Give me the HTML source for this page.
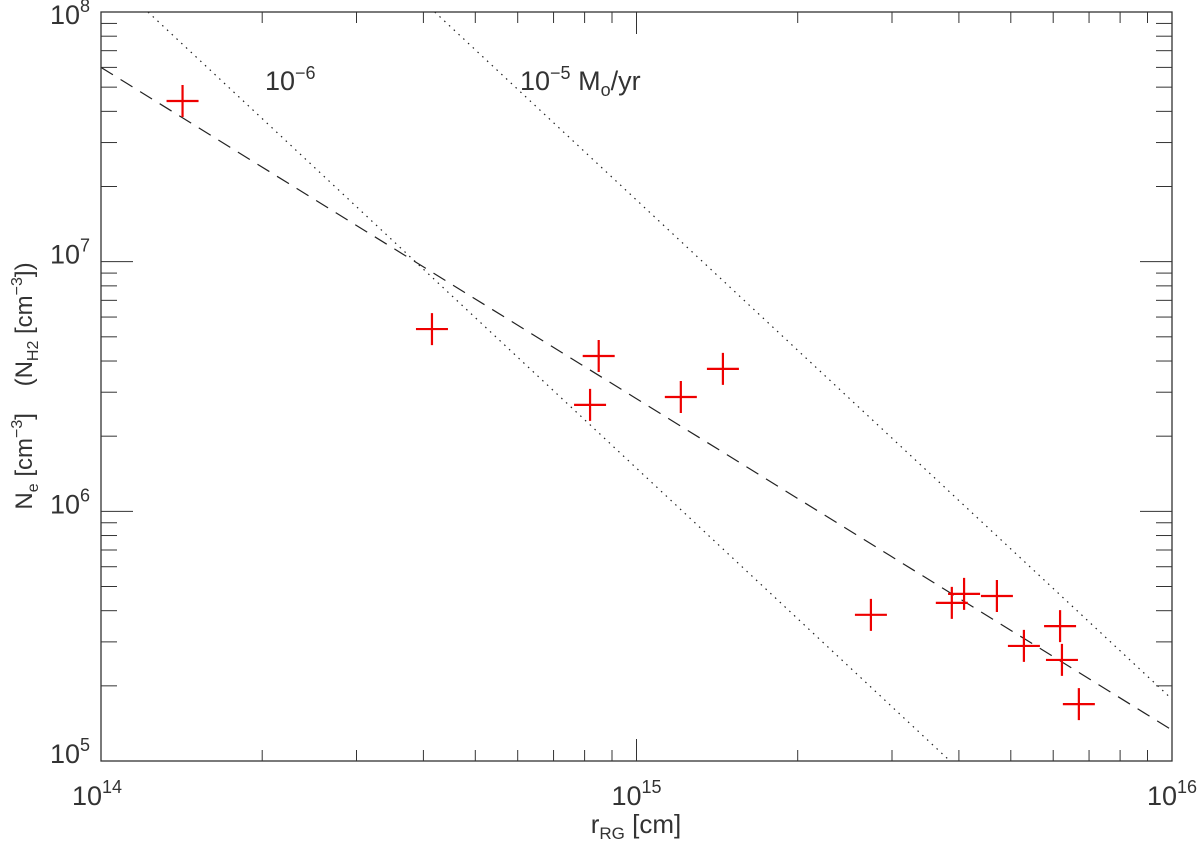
<!DOCTYPE html>
<html><head><meta charset="utf-8"><style>
body{margin:0;background:#fff;}
svg text{font-family:"Liberation Sans",sans-serif;fill:#333;}
</style></head><body>
<svg id="chart" width="1200" height="839" xmlns="http://www.w3.org/2000/svg">
<g id="ticks"></g>
<g id="lines"></g>
<g id="pts"></g>
<rect x="101" y="12" width="1071" height="749" fill="none" stroke="#333" stroke-width="1.3"/>
<text x="265" y="90" font-size="27">10<tspan dy="-11" font-size="18">−6</tspan></text>
<text x="520" y="90" font-size="27">10<tspan dy="-11" font-size="18">−5</tspan><tspan dy="11">&#160;M</tspan><tspan dy="6" font-size="18">o</tspan><tspan dy="-6">/yr</tspan></text>
<text x="636" y="833" font-size="26" text-anchor="middle">r<tspan dy="6" font-size="17">RG</tspan><tspan dy="-6">&#160;[cm]</tspan></text>
<text transform="translate(32,386) rotate(-90)" font-size="24" text-anchor="middle">N<tspan dy="6" font-size="16">e</tspan><tspan dy="-6">&#160;[cm</tspan><tspan dy="-10" font-size="16">−3</tspan><tspan dy="10">]&#160;&#160;&#160;&#160;(N</tspan><tspan dy="6" font-size="16">H2</tspan><tspan dy="-6">&#160;[cm</tspan><tspan dy="-10" font-size="16">−3</tspan><tspan dy="10">])</tspan></text>
</svg>
<script>
const xVals=[1.42e14,4.15e14,8.19e14,8.5e14,1.21e15,1.45e15,2.74e15,3.88e15,4.09e15,4.71e15,5.29e15,6.18e15,6.23e15,6.70e15];
const yVals=[4.4e7,5.37e6,2.67e6,4.19e6,2.87e6,3.72e6,3.85e5,4.3e5,4.67e5,4.58e5,2.89e5,3.47e5,2.54e5,1.69e5];
const xDecades=[14,15,16];
const yDecades=[5,6,7,8];
const dashedFit=[[1e14,6.0e7],[1e16,1.33e5]];
const dotted1=[[1.224e14,1e8],[3.85e15,1e5]];
const dotted2=[[4.2e14,1e8],[1.33e16,1e5]];
const X0=101,X1=1172,Y0=761,Y1=12;
const sx=v=>X0+(Math.log10(v)-14)/2*(X1-X0);
const sy=v=>Y0-(Math.log10(v)-5)/3*(Y0-Y1);
const NS="http://www.w3.org/2000/svg";
function mk(t,p,a){const e=document.createElementNS(NS,t);for(const k in a)e.setAttribute(k,a[k]);p.appendChild(e);return e;}
const tg=document.getElementById('ticks');
xDecades.forEach((d,i)=>{
 for(let m=1;m<=9;m++){
  if(i==xDecades.length-1&&m>1)break;
  const x=sx(m*Math.pow(10,d));const L=m==1?22:11;
  const t1=mk('line',tg,{x1:x,x2:x,y1:Y0,y2:Y0-L,stroke:'#333'});
  
  const t2=mk('line',tg,{x1:x,x2:x,y1:Y1,y2:Y1+L,stroke:'#333'});
  
 }
 const lb=mk('text',tg,{x:sx(Math.pow(10,d))+(i==0?-4:0),y:805,'font-size':27,'text-anchor':'middle'});
 
 lb.innerHTML='10<tspan dy="-12" font-size="18">'+d+'</tspan>';
});
yDecades.forEach((d,i)=>{
 for(let m=1;m<=9;m++){
  if(i==yDecades.length-1&&m>1)break;
  const y=sy(m*Math.pow(10,d));const L=m==1?32:16;
  const t1=mk('line',tg,{x1:X0,x2:X0+L,y1:y,y2:y,stroke:'#333'});
  
  const t2=mk('line',tg,{x1:X1,x2:X1-L,y1:y,y2:y,stroke:'#333'});
  
 }
 const lb=mk('text',tg,{x:50,y:sy(Math.pow(10,d))+(i==yDecades.length-1?12:2),'font-size':27});
 
 lb.innerHTML='10<tspan dy="-12" font-size="18">'+d+'</tspan>';
});
const lg=document.getElementById('lines');
const cp=mk('clipPath',document.getElementById('chart'),{id:'clip'});
mk('rect',cp,{x:X0,y:Y1,width:X1-X0,height:Y0-Y1});
lg.setAttribute('clip-path','url(#clip)');
function seg(p,dash,name){
 const l=mk('line',lg,{x1:sx(p[0][0]),y1:sy(p[0][1]),x2:sx(p[1][0]),y2:sy(p[1][1]),stroke:'#222','stroke-width':1.2,'stroke-dasharray':dash});
 
 
}
seg(dashedFit,'14 9','dashed-fit-line');
seg(dotted1,'1.5 5','dotted-1e-6-line');
seg(dotted2,'1.5 5','dotted-1e-5-line');
const pg=document.getElementById('pts');
xVals.forEach((v,i)=>{
 const x=sx(v),y=sy(yVals[i]);
 const g=mk('path',pg,{d:`M${x-16},${y}H${x+16}M${x},${y-16}V${y+16}`,stroke:'#e00','stroke-width':2.2});
 
 
});
</script>
</body></html>
